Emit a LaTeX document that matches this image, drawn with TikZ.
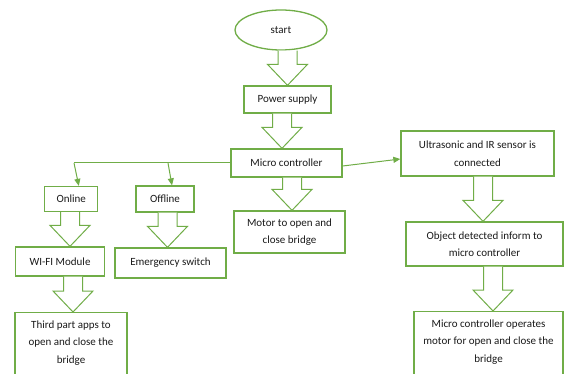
\documentclass[tikz,border=0pt]{standalone}
\usepackage{fontspec}
\setmainfont{Carlito}
\usetikzlibrary{shapes.geometric,arrows.meta,calc}
\definecolor{grn}{HTML}{70AD47}
\definecolor{ink}{HTML}{1A1A1A}
\tikzset{
  box/.style={draw=grn, line width=1.3pt, fill=white, inner sep=0pt, align=center,
    text=ink, font=\fontsize{11}{17.5}\selectfont},
  txt/.style={inner sep=0pt, align=center, text=ink, font=\fontsize{11}{17.5}\selectfont},
  blk/.style={draw=grn, fill=white, line width=1pt, line join=miter,
    to path={let \p1=(\tikztostart), \p2=(\tikztotarget) in
      (\x2-9.5pt,\y1) -- (\x2-9.5pt,\y2+21pt) -- (\x2-20pt,\y2+21pt) -- (\x2,\y2)
      -- (\x2+20pt,\y2+21pt) -- (\x2+9.5pt,\y2+21pt) -- (\x2+9.5pt,\y1)}},
  thin/.style={draw=grn, line width=1pt, -{Triangle[length=7pt,width=6pt]}},
  plain/.style={draw=grn, line width=1pt}
}
\begin{document}
\begin{tikzpicture}[x=1pt,y=-1pt]
\useasboundingbox (0,0) rectangle (565,374);
\clip (0,0) rectangle (565,374);
\fill[white] (0,0) rectangle (565,374);

% nodes
\node[box, ellipse, minimum width=92, minimum height=40] (start) at (281,30) {start};
\node[box, minimum width=87, minimum height=27] (power) at (287.5,99.5) {Power supply};
\node[box, minimum width=111, minimum height=28] (micro) at (286.5,163) {Micro controller};
\node[box, minimum width=153, minimum height=45] (ultra) at (477.5,153.5) {Ultrasonic and IR sensor is\\connected};
\node[box, minimum width=53, minimum height=25] (online) at (71.3,199) {Online};
\node[box, minimum width=58, minimum height=26] (offline) at (165,199) {Offline};
\node[box, minimum width=89, minimum height=29] (wifi) at (60,261.5) {WI-FI Module};
\node[box, minimum width=111, minimum height=30] (emerg) at (170.5,263) {Emergency switch};
\node[box, minimum width=111, minimum height=42] (motor) at (289.5,232) {Motor to open and\\close bridge};
\node[box, minimum width=157, minimum height=44] (object) at (484.5,244) {Object detected inform to\\micro controller};
\node[box, minimum width=112, minimum height=80, anchor=north] (third) at (71,312) {};
\node[txt] (thirdtxt) at (71,343) {Third part apps to\\open and close the\\bridge};
\node[box, minimum width=149, minimum height=80, anchor=north] (micro2) at (488.5,311) {};
\node[txt] (micro2txt) at (488.5,342) {Micro controller operates\\motor for open and close the\\bridge};

% junction points
\coordinate (j1) at (74,163);
\coordinate (j2) at (168,163);

% block arrows
\path[blk] (start.south) to (power.north);
\path[blk] (power.south) to ([xshift=-4.5pt]micro.north);
\path[blk] (micro.south) to ([xshift=2.5pt]motor.north);
\path[blk] (online.south) to ([xshift=10pt]wifi.north);
\path[blk] (offline.south) to ([xshift=-3pt]emerg.north);
\path[blk] (wifi.south) to ([xshift=2pt]third.north);
\path[blk] (ultra.south) to ([xshift=-1.5pt]object.north);
\path[blk] (object.south) to ([xshift=4.5pt]micro2.north);

% thin connectors
\draw[plain] (micro.west) -- (j1);
\draw[thin] (j1) -- ([xshift=7.5pt]online.north);
\draw[thin] (j2) -- ([xshift=7pt]offline.north);
\draw[thin] ([yshift=-3pt]micro.east) -- ([yshift=-5.5pt]ultra.west);
\end{tikzpicture}
\end{document}
